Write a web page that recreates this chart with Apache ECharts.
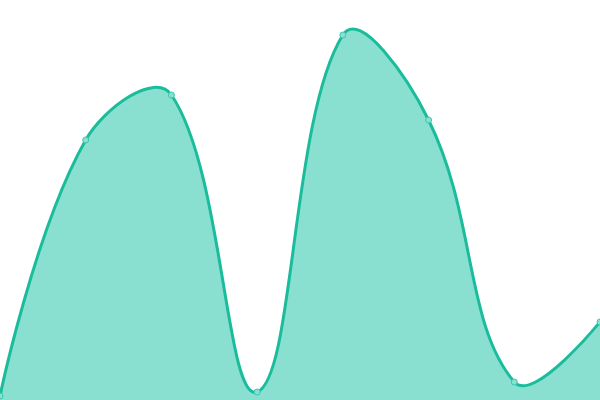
<!DOCTYPE html>
<html><head><meta charset="utf-8">
<script src="https://cdn.jsdelivr.net/npm/echarts@6/dist/echarts.min.js"></script>
<style>html,body{margin:0;padding:0;background:#fff}#c{width:600px;height:400px}</style>
</head><body><div id="c"></div>
<script>
const categories = ['1','2','3','4','5','6','7','8'];
const values = [4, 260, 305, 8, 365, 280, 18, 78];
const tension = 0.4;

function splinePath(api) {
  const pts = values.map((v, i) => api.coord([i, v]));
  let d = 'M' + pts[0][0] + ' ' + pts[0][1];
  const cps = pts.map((p, i) => {
    if (i === 0 || i === pts.length - 1) return [p.slice(), p.slice()];
    const a = pts[i - 1], b = pts[i + 1];
    const d01 = Math.hypot(p[0] - a[0], p[1] - a[1]);
    const d12 = Math.hypot(b[0] - p[0], b[1] - p[1]);
    const s01 = d01 / (d01 + d12), s12 = d12 / (d01 + d12);
    const vx = b[0] - a[0], vy = b[1] - a[1];
    return [[p[0] - tension * s01 * vx, p[1] - tension * s01 * vy],
            [p[0] + tension * s12 * vx, p[1] + tension * s12 * vy]];
  });
  for (let i = 1; i < pts.length; i++) {
    const c1 = cps[i - 1][1], c2 = cps[i][0], p = pts[i];
    d += ' C' + c1[0] + ' ' + c1[1] + ' ' + c2[0] + ' ' + c2[1] + ' ' + p[0] + ' ' + p[1];
  }
  return {d, pts};
}

const chart = echarts.init(document.getElementById('c'));
chart.setOption({
  animation: false,
  grid: {left: 0, right: 0, top: 0, bottom: 0},
  xAxis: {type: 'category', data: categories, boundaryGap: false, show: false},
  yAxis: {type: 'value', min: 0, max: 400, show: false},
  series: [{
    type: 'custom',
    data: values.map((v, i) => [i, v]),
    z: 1,
    renderItem: function (params, api) {
      if (params.dataIndex !== 0) return null;
      const {d, pts} = splinePath(api);
      const base = api.coord([0, 0])[1];
      const area = d + ' L' + pts[pts.length - 1][0] + ' ' + base + ' L' + pts[0][0] + ' ' + base + ' Z';
      return {
        type: 'group',
        children: [
          {type: 'path', shape: {pathData: area}, style: {fill: '#8ae0d0', stroke: null}},
          {type: 'path', shape: {pathData: d}, style: {fill: null, stroke: '#1abc9c', lineWidth: 3}}
        ]
      };
    }
  }, {
    type: 'line',
    data: values,
    z: 3,
    symbol: 'circle',
    symbolSize: 6,
    lineStyle: {width: 0, opacity: 0},
    itemStyle: {color: '#8ae0d0', borderColor: '#3cc7ac', borderWidth: 1}
  }]
});
</script></body></html>
